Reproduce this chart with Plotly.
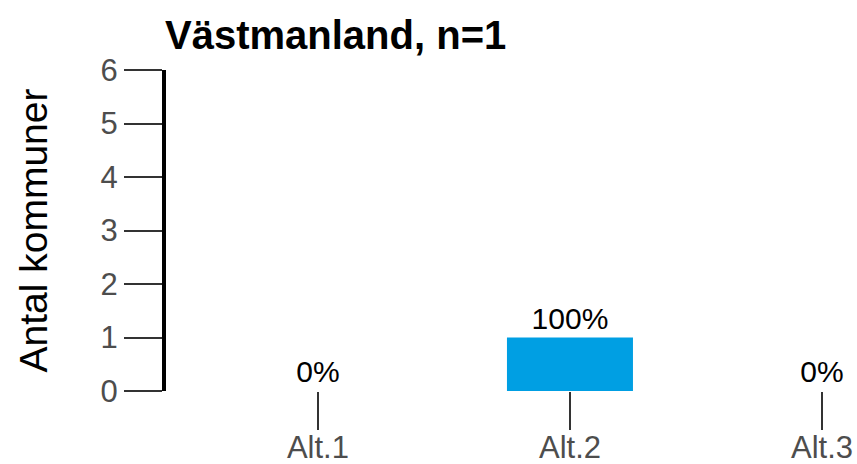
import plotly.graph_objects as go

categories = ["Alt.1", "Alt.2", "Alt.3"]
counts = [0, 1, 0]
pct_labels = ["0%", "100%", "0%"]
y_ticks = [0, 1, 2, 3, 4, 5, 6]
title_text = "Västmanland, n=1"
y_title = "Antal kommuner"

W, H = 857, 464
L, T, B = 166, 70, 73
plot_w = W - L

fig = go.Figure()
fig.add_trace(go.Bar(
    x=categories, y=counts, text=pct_labels, textposition="outside",
    textfont=dict(size=30, color="black", family="Liberation Sans, Arial"),
    marker=dict(color="#009FE3", line=dict(width=0)),
    width=0.5, cliponaxis=False,
))
fig.update_layout(
    width=W, height=H,
    margin=dict(l=L, r=0, t=T, b=B, autoexpand=False),
    plot_bgcolor="white", paper_bgcolor="white",
    font=dict(family="Liberation Sans, Arial", color="#4d4d4d"),
    title=dict(text="<b>" + title_text + "</b>", x=165 / W, xanchor="left",
               y=1 - 35 / H, yanchor="middle",
               font=dict(size=40, color="black")),
    showlegend=False,
    annotations=[dict(
        text=y_title, textangle=-90, xref="paper", yref="paper",
        x=(33 - L) / plot_w, y=0.5, xanchor="center", yanchor="middle",
        showarrow=False, font=dict(size=39, color="black"),
    )],
)
fig.update_xaxes(
    type="category", range=[-0.603, 2.139], showline=False, showgrid=False,
    ticks="outside", ticklen=38, tickwidth=2, tickcolor="#333333",
    tickfont=dict(size=31, color="#4d4d4d"), zeroline=False, automargin=False,
    ticklabelstandoff=-9,
)
fig.update_yaxes(
    range=[0, 6], tickvals=y_ticks, showgrid=False, zeroline=False,
    showline=True, linewidth=4, linecolor="black",
    ticks="outside", ticklen=38, tickwidth=2, tickcolor="#333333",
    tickfont=dict(size=31, color="#4d4d4d"), automargin=False,
)
fig.write_html(
    "out.html",
    config={"displayModeBar": False},
    post_script="document.body.style.margin='0';document.body.style.overflow='hidden';",
)
